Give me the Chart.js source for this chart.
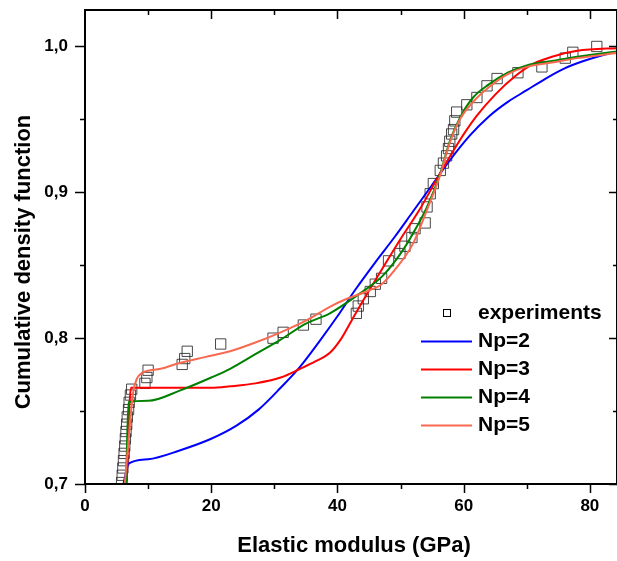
<!DOCTYPE html>
<html lang="en">
<head>
<meta charset="UTF-8">
<title>Cumulative density function - elastic modulus</title>
<script src="https://cdn.jsdelivr.net/npm/chart.js"></script>
<style>
    html, body { margin: 0; padding: 0; background: #fff; overflow: hidden; }
    canvas { display: block; }
</style>
</head>
<body>
<canvas id="cdfChart" width="617" height="561"></canvas>
<script>
    // experimental points (GPa, CDF)
    const expX = [5.8, 5.9, 6.0, 6.1, 6.2, 6.3, 6.4, 6.5, 6.6, 6.7, 6.9, 7.0, 7.2, 7.4,
        9.5, 9.8, 10.0, 15.4, 15.8, 16.2, 21.5, 29.8, 31.4, 34.6, 36.6,
        43.0, 43.3, 44.1, 45.2, 46.0, 47.0, 48.1, 49.9, 50.7, 51.8, 52.3, 53.9, 54.2,
        54.7, 55.2, 56.3, 56.8, 57.3, 57.6, 57.8, 58.1, 58.4, 58.6, 58.9, 60.5, 62.1, 63.7,
        65.3, 68.6, 72.4, 76.1, 77.3, 81.1];
    const expY = [0.701, 0.706, 0.711, 0.716, 0.721, 0.726, 0.731, 0.736, 0.741, 0.746, 0.751, 0.756, 0.761, 0.765,
        0.769, 0.773, 0.778, 0.782, 0.786, 0.791, 0.796, 0.800, 0.804, 0.809, 0.813,
        0.817, 0.822, 0.827, 0.832, 0.837, 0.841, 0.853, 0.858, 0.863, 0.869, 0.875, 0.879, 0.890,
        0.899, 0.906, 0.915, 0.920, 0.925, 0.930, 0.935, 0.940, 0.943, 0.949, 0.955, 0.960, 0.965, 0.973,
        0.978, 0.982, 0.986, 0.992, 0.996, 1.000];

    const np2X = [6.1, 6.5, 6.9, 10, 15, 20, 24, 27.5, 31, 34, 37, 40, 42.8, 46, 49, 52, 55, 58, 61, 64, 67, 70, 73, 76, 79, 82, 85];
    const np2Y = [0.700, 0.708, 0.714, 0.717, 0.723, 0.731, 0.740, 0.751, 0.766, 0.780, 0.797, 0.815, 0.833, 0.852, 0.869, 0.887, 0.905, 0.923, 0.939, 0.952, 0.962, 0.970, 0.978, 0.985, 0.990, 0.994, 0.997];

    const np3X = [6.6, 6.9, 7.3, 10, 15, 20, 23, 27, 31, 34.1, 36.5, 38.8, 40.5, 42.3, 44.1, 47.3, 50, 53, 56, 59, 62, 65, 68, 71, 74, 78, 85];
    const np3Y = [0.700, 0.740, 0.766, 0.766, 0.766, 0.766, 0.767, 0.769, 0.773, 0.779, 0.784, 0.790, 0.799, 0.8125, 0.826, 0.849, 0.868, 0.888, 0.911, 0.933, 0.952, 0.967, 0.979, 0.988, 0.993, 0.997, 0.999];

    const np4X = [6.5, 6.9, 10, 15, 20, 23, 27, 31, 35, 38.8, 44, 47, 50, 52, 54.2, 56.3, 57.8, 59.4, 61.5, 64, 67, 70, 74, 78, 85];
    const np4Y = [0.700, 0.756, 0.757, 0.764, 0.773, 0.779, 0.789, 0.799, 0.810, 0.817, 0.832, 0.842, 0.858, 0.872, 0.890, 0.913, 0.935, 0.951, 0.965, 0.974, 0.982, 0.987, 0.990, 0.993, 0.997];

    const np5X = [6.3, 7.0, 7.6, 8.2, 9, 12, 15, 19, 23, 27, 31, 35, 38.8, 41.5, 44.6, 47, 49.5, 52, 54.2, 56.3, 57.8, 59.4, 61.5, 64, 67, 70, 74, 78, 85];
    const np5Y = [0.700, 0.735, 0.762, 0.772, 0.776, 0.779, 0.783, 0.787, 0.791, 0.797, 0.804, 0.812, 0.8215, 0.827, 0.832, 0.837, 0.849, 0.865, 0.888, 0.912, 0.934, 0.950, 0.962, 0.972, 0.981, 0.986, 0.989, 0.992, 0.996];

    const xTicks = [0, 20, 40, 60, 80];
    const xMinor = [10, 30, 50, 70];
    const yTicks = [0.7, 0.8, 0.9, 1.0];
    const yMinor = [0.75, 0.85, 0.95];

    const legendLabels = ['experiments', 'Np=2', 'Np=3', 'Np=4', 'Np=5'];

    function pts(xs, ys) {
        return xs.map((x, i) => ({ x: x, y: ys[i] }));
    }

    const FONT = '"Liberation Sans", Arial, sans-serif';
    Chart.defaults.font.family = FONT;
    Chart.defaults.color = '#000';

    // no extra room for edge labels, the plot box is fixed
    function noPad(s) {
        s.paddingTop = 0;
        s.paddingBottom = 0;
        s.paddingLeft = 0;
        s.paddingRight = 0;
    }

    // frame, ticks, legend and axis titles
    const frame = {
        id: 'frame',
        afterDraw(chart) {
            const ctx = chart.ctx;
            const a = chart.chartArea;
            const sx = chart.scales.x;
            const sy = chart.scales.y;
            ctx.save();
            ctx.strokeStyle = '#000';
            ctx.lineWidth = 2;
            ctx.strokeRect(a.left, a.top, a.right - a.left, a.bottom - a.top);

            ctx.lineWidth = 1.5;
            ctx.beginPath();
            xTicks.forEach(v => {
                const px = Math.round(sx.getPixelForValue(v)) + 0.5;
                ctx.moveTo(px, a.bottom); ctx.lineTo(px, a.bottom + 9);
                if (v > 0) { ctx.moveTo(px, a.top); ctx.lineTo(px, a.top + 9); }
            });
            xMinor.forEach(v => {
                const px = Math.round(sx.getPixelForValue(v)) + 0.5;
                ctx.moveTo(px, a.bottom); ctx.lineTo(px, a.bottom + 5);
                ctx.moveTo(px, a.top); ctx.lineTo(px, a.top + 5);
            });
            yTicks.forEach(v => {
                const py = Math.round(sy.getPixelForValue(v)) + 0.5;
                ctx.moveTo(a.left, py); ctx.lineTo(a.left - 10, py);
                ctx.moveTo(a.right, py); ctx.lineTo(a.right - 8, py);
            });
            yMinor.forEach(v => {
                const py = Math.round(sy.getPixelForValue(v)) + 0.5;
                ctx.moveTo(a.left, py); ctx.lineTo(a.left - 5, py);
                ctx.moveTo(a.right, py); ctx.lineTo(a.right - 4, py);
            });
            ctx.stroke();

            // axis titles
            ctx.fillStyle = '#000';
            ctx.font = 'bold 22px ' + FONT;
            ctx.textAlign = 'center';
            ctx.textBaseline = 'middle';
            ctx.fillText('Elastic modulus (GPa)', 354, 546);
            ctx.save();
            ctx.translate(24, 262);
            ctx.rotate(-Math.PI / 2);
            ctx.fillText('Cumulative density function', 0, 0);
            ctx.restore();

            // legend
            const ds = chart.data.datasets;
            ctx.font = 'bold 21px ' + FONT;
            ctx.textAlign = 'left';
            const rows = [313, 341.5, 369.5, 397.5, 425.5];
            ctx.lineWidth = 1;
            ctx.strokeStyle = '#000';
            ctx.strokeRect(443.5, 309.5, 7, 7);
            ctx.fillText(legendLabels[0], 478, rows[0]);
            for (let i = 1; i < 5; i++) {
                ctx.strokeStyle = ds[i].borderColor;
                ctx.lineWidth = 2;
                ctx.beginPath();
                ctx.moveTo(421, rows[i]);
                ctx.lineTo(472, rows[i]);
                ctx.stroke();
                ctx.fillText(legendLabels[i], 478, rows[i]);
            }
            ctx.restore();
        }
    };

    const lineStyle = {
        showLine: true,
        pointRadius: 0,
        borderWidth: 2,
        fill: false,
        cubicInterpolationMode: 'monotone'
    };

    new Chart(document.getElementById('cdfChart'), {
        type: 'scatter',
        data: {
            datasets: [
                {
                    label: legendLabels[0],
                    data: pts(expX, expY),
                    pointStyle: 'rect',
                    pointRadius: 7.3,
                    borderColor: 'rgba(40,40,40,0.85)',
                    backgroundColor: 'rgba(0,0,0,0)',
                    borderWidth: 1,
                    order: 10
                },
                Object.assign({ label: legendLabels[1], data: pts(np2X, np2Y), borderColor: '#0000FF', order: 4 }, lineStyle),
                Object.assign({ label: legendLabels[2], data: pts(np3X, np3Y), borderColor: '#FF0000', order: 3 }, lineStyle),
                Object.assign({ label: legendLabels[3], data: pts(np4X, np4Y), borderColor: '#008000', order: 2 }, lineStyle),
                Object.assign({ label: legendLabels[4], data: pts(np5X, np5Y), borderColor: '#F86A50', order: 1 }, lineStyle)
            ]
        },
        options: {
            responsive: false,
            animation: false,
            layout: { autoPadding: false, padding: { top: 10, right: 0, left: 0, bottom: 0 } },
            plugins: {
                legend: { display: false },
                tooltip: { enabled: false }
            },
            scales: {
                x: {
                    type: 'linear',
                    min: 0,
                    max: 84.3,
                    grid: { display: false, drawTicks: false },
                    border: { display: false },
                    ticks: {
                        stepSize: 20,
                        includeBounds: false,
                        padding: 12,
                        maxRotation: 0,
                        font: { size: 17, weight: 'bold' },
                        callback: v => String(v)
                    },
                    afterFit: s => { s.height = 77; noPad(s); }
                },
                y: {
                    type: 'linear',
                    min: 0.7,
                    max: 1.025,
                    grid: { display: false, drawTicks: false },
                    border: { display: false },
                    ticks: {
                        stepSize: 0.1,
                        includeBounds: false,
                        padding: 17,
                        font: { size: 17, weight: 'bold' },
                        callback: v => v.toFixed(1).replace('.', ',')
                    },
                    afterFit: s => { s.width = 85; noPad(s); }
                }
            }
        },
        plugins: [frame]
    });
</script>
</body>
</html>
